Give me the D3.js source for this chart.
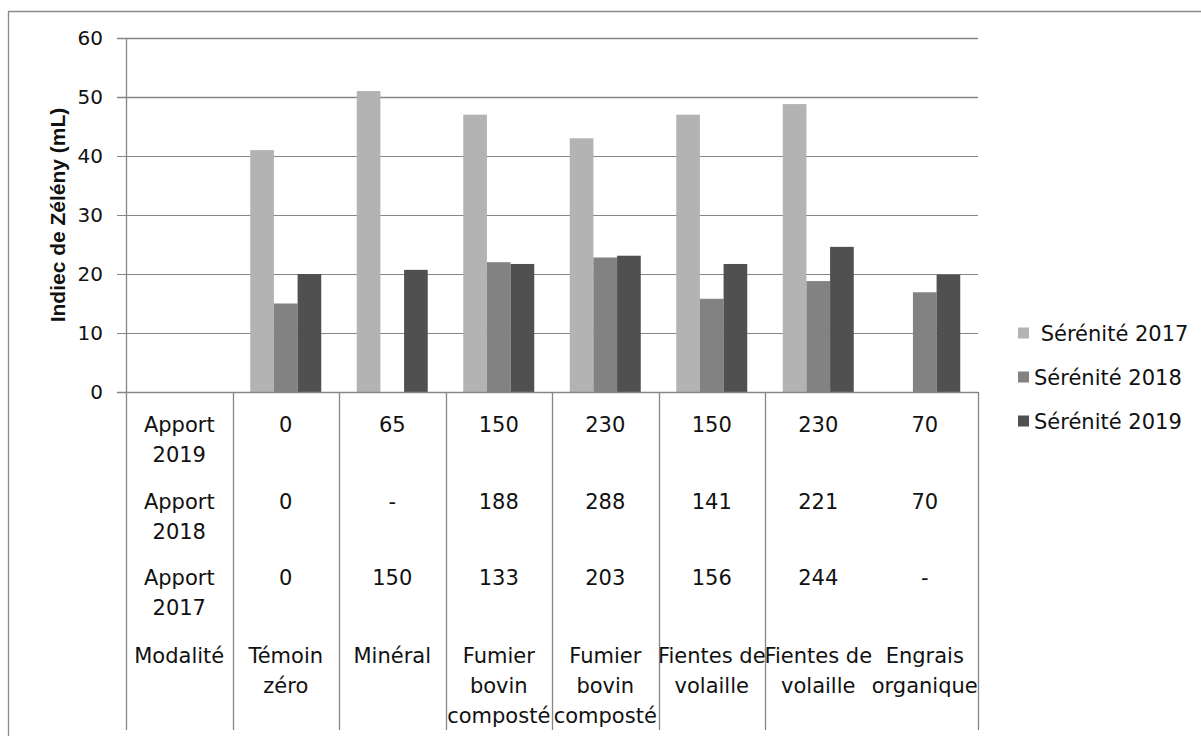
<!DOCTYPE html>
<html>
<head>
<meta charset="utf-8">
<script src="https://cdn.jsdelivr.net/npm/d3@7"></script>
<style>
  body { margin: 0; background: #fff; }
  svg { display: block; }
  text { font-family: "DejaVu Sans", sans-serif; fill: #111; }
</style>
</head>
<body>
<div id="box"></div>
<script>
// categories of the x axis (first one is the label column of the data table)
var categories = ["c0", "c1", "c2", "c3", "c4", "c5", "c6", "c7"];
var modalites = [["Modalité"], ["Témoin", "zéro"], ["Minéral"], ["Fumier", "bovin", "composté"],
    ["Fumier", "bovin", "composté"], ["Fientes de", "volaille"], ["Fientes de", "volaille"], ["Engrais", "organique"]];

var seriesNames = [" Sérénité 2017", "Sérénité 2018", "Sérénité 2019"];
var seriesColors = ["#b3b3b3", "#828282", "#505050"];
var serenite2017 = [null, 41, 51, 47, 43, 47, 48.8, null];
var serenite2018 = [null, 15, null, 22, 22.8, 15.8, 18.8, 16.9];
var serenite2019 = [null, 20, 20.7, 21.7, 23.1, 21.7, 24.6, 19.9];

// data table rows
var rowLabels = [["Apport", "2019"], ["Apport", "2018"], ["Apport", "2017"]];
var apport2019 = [null, "0", "65", "150", "230", "150", "230", "70"];
var apport2018 = [null, "0", "-", "188", "288", "141", "221", "70"];
var apport2017 = [null, "0", "150", "133", "203", "156", "244", "-"];
// column borders drawn in the table (none between the last two columns)
var tableBorders = [0, 1, 2, 3, 4, 5, 6, 8];

var yTicks = [0, 10, 20, 30, 40, 50, 60];

function drawChart() {
    var svg = d3.select("#box")
        .append("svg")
        .attr("width", 1201)
        .attr("height", 736);

    var plotLeft = 126, plotRight = 978, plotTop = 38, plotBottom = 392, tableBottom = 730;

    // outer border (only top and left visible)
    svg.append("path")
        .attr("d", "M8.5,736 V11.5 H1201")
        .attr("fill", "none")
        .attr("stroke", "#8a8a8a")
        .attr("stroke-width", 1.3);

    var x = d3.scaleBand().domain(categories).range([plotLeft, plotRight]).padding(0);
    var barW = x.bandwidth() / 4.5;
    var x1 = d3.scaleBand().domain([0, 1, 2]).range([0.75 * barW, 3.75 * barW]).padding(0);
    var y = d3.scaleLinear().domain([0, 60]).range([plotBottom, plotTop]);

    // gridlines
    svg.append("g")
        .selectAll("line")
        .data(yTicks)
        .enter()
        .append("line")
        .attr("x1", plotLeft - 9)
        .attr("x2", plotRight)
        .attr("y1", function(d) { return Math.round(y(d)) + 0.5; })
        .attr("y2", function(d) { return Math.round(y(d)) + 0.5; })
        .attr("stroke", "#868686")
        .attr("stroke-width", function(d) { return d >= 50 ? 1.6 : 1.2; });

    // y axis labels
    var yAxis = svg.append("g")
        .attr("transform", "translate(" + plotLeft + ",0)")
        .call(d3.axisLeft(y).tickValues(yTicks).tickSize(0).tickPadding(23));
    yAxis.select(".domain").remove();
    yAxis.selectAll("text")
        .style("font-family", "DejaVu Sans")
        .style("font-size", "20px")
        .attr("fill", "#111");

    // bars
    var allSeries = [serenite2017, serenite2018, serenite2019];
    allSeries.forEach(function(values, s) {
        svg.append("g")
            .selectAll("rect")
            .data(values.map(function(v, i) { return { cat: categories[i], v: v }; })
                .filter(function(d) { return d.v !== null; }))
            .enter()
            .append("rect")
            .attr("x", function(d) { return x(d.cat) + x1(s); })
            .attr("width", x1.bandwidth())
            .attr("y", function(d) { return y(d.v); })
            .attr("height", function(d) { return y(0) - y(d.v); })
            .attr("fill", seriesColors[s]);
    });

    // axis / table lines
    svg.append("line")
        .attr("x1", plotLeft - 9).attr("x2", plotRight)
        .attr("y1", plotBottom + 0.5).attr("y2", plotBottom + 0.5)
        .attr("stroke", "#868686").attr("stroke-width", 1.3);

    svg.append("g")
        .selectAll("line")
        .data(tableBorders)
        .enter()
        .append("line")
        .attr("x1", function(d) { return Math.round(plotLeft + d * x.bandwidth()) + 0.5; })
        .attr("x2", function(d) { return Math.round(plotLeft + d * x.bandwidth()) + 0.5; })
        .attr("y1", function(d) { return d === 0 ? plotTop : plotBottom; })
        .attr("y2", tableBottom)
        .attr("stroke", "#868686")
        .attr("stroke-width", 1.3);

    // table text
    var rowBase = [432, 508.5, 585, 663];
    var lineH = 30;
    var rows = [apport2019, apport2018, apport2017];

    function cellText(lines, colIdx, baseY) {
        var cx = x(categories[colIdx]) + x.bandwidth() / 2;
        var t = svg.append("text")
            .attr("text-anchor", "middle")
            .attr("font-size", 21)
            .attr("x", cx)
            .attr("y", baseY);
        lines.forEach(function(l, k) {
            t.append("tspan")
                .attr("x", cx)
                .attr("y", baseY + k * lineH)
                .text(l);
        });
    }

    rows.forEach(function(row, r) {
        cellText(rowLabels[r], 0, rowBase[r]);
        row.forEach(function(v, i) {
            if (v !== null) cellText([v], i, rowBase[r]);
        });
    });
    modalites.forEach(function(m, i) {
        cellText(m, i, rowBase[3]);
    });

    // y axis title
    svg.append("text")
        .attr("transform", "translate(65," + ((plotTop + plotBottom) / 2) + ") rotate(-90)")
        .attr("text-anchor", "middle")
        .style("font-family", "Liberation Sans")
        .style("font-weight", "bold")
        .style("font-size", "21px")
        .text("Indiec de Zélény (mL)");

    // legend
    var legendY = [333, 377, 421];
    var legend = svg.append("g")
        .selectAll("g")
        .data(seriesNames)
        .enter()
        .append("g")
        .attr("transform", function(d, i) { return "translate(1018," + legendY[i] + ")"; });

    legend.append("rect")
        .attr("x", 0)
        .attr("y", -5.5)
        .attr("width", 11)
        .attr("height", 11)
        .attr("fill", function(d, i) { return seriesColors[i]; });

    legend.append("text")
        .attr("x", 16)
        .attr("y", 7.5)
        .attr("font-size", 21)
        .style("white-space", "pre")
        .text(function(d) { return d; });
}

drawChart();
</script>
</body>
</html>
